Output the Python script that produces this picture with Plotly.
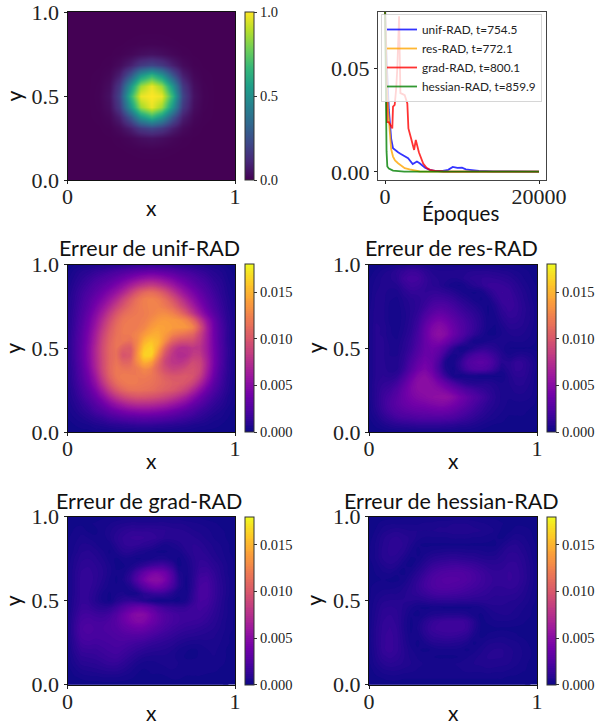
import numpy as np
import plotly.graph_objects as go

W, H = 603, 724
SERIF = "Liberation Serif"
SANS = "Lato"

# grid axes of the fields
solution_x = [i / 16 for i in range(17)]
solution_y = [i / 16 for i in range(17)]
error_x = [i / 24 for i in range(25)]
error_y = [i / 24 for i in range(25)]

# solution field, rows listed from y=1 (top) to y=0 (bottom)
solution_rows = [
 [0,0,0,0,0,0,0,0,0,0,0,0,0,0,0,0,0],
 [0,0,0,0,0,0,0,0,0,0,0,0,0,0,0,0,0],
 [0,0,0,0,0,0,0,.001,.001,.001,0,0,0,0,0,0,0],
 [0,0,0,0,0,.001,.003,.006,.008,.006,.003,.001,0,0,0,0,0],
 [0,0,0,0,.001,.005,.017,.036,.047,.036,.017,.005,.001,0,0,0,0],
 [0,0,0,.001,.005,.028,.085,.17,.21,.17,.085,.028,.005,.001,0,0,0],
 [0,0,.001,.003,.017,.085,.27,.52,.65,.52,.27,.085,.017,.003,.001,0,0],
 [0,0,.001,.006,.036,.17,.52,.85,.97,.85,.52,.17,.036,.006,.001,0,0],
 [0,0,.001,.008,.047,.21,.65,.97,1,.97,.65,.21,.047,.008,.001,0,0],
 [0,0,.001,.006,.036,.17,.52,.85,.97,.85,.52,.17,.036,.006,.001,0,0],
 [0,0,.001,.003,.017,.085,.27,.52,.65,.52,.27,.085,.017,.003,.001,0,0],
 [0,0,0,.001,.005,.028,.085,.17,.21,.17,.085,.028,.005,.001,0,0,0],
 [0,0,0,0,.001,.005,.017,.036,.047,.036,.017,.005,.001,0,0,0,0],
 [0,0,0,0,0,.001,.003,.006,.008,.006,.003,.001,0,0,0,0,0],
 [0,0,0,0,0,0,0,.001,.001,.001,0,0,0,0,0,0,0],
 [0,0,0,0,0,0,0,0,0,0,0,0,0,0,0,0,0],
 [0,0,0,0,0,0,0,0,0,0,0,0,0,0,0,0,0],
]

# error fields as read, rows from y=1 (top) to y=0 (bottom)
unif_rows = [
 [0,.2,.3,.4,.5,.6,.7,.8,.9,1,1.1,1.1,1.2,1.1,1.1,1,.9,.8,.7,.6,.5,.4,.3,.1,0],
 [.2,.5,.8,1,1.3,1.5,1.8,2.1,2.4,2.7,3,3.2,3.3,3.2,3,2.7,2.3,2,1.7,1.4,1.1,.8,.6,.3,.1],
 [.3,.7,1.1,1.5,1.9,2.3,2.7,3.2,3.8,4.4,5,5.5,5.7,5.5,5,4.4,3.7,3.1,2.5,2,1.6,1.1,.8,.4,.2],
 [.4,.9,1.4,1.9,2.5,3,3.6,4.4,5.3,6.4,7.4,8.1,8.4,8,7.2,6.2,5.1,4.2,3.3,2.6,2,1.4,1,.5,.2],
 [.5,1.1,1.7,2.3,3,3.8,4.7,5.7,7,8.5,10,11,11.3,10.8,9.7,8.2,6.7,5.4,4.3,3.3,2.4,1.7,1.1,.6,.3],
 [.6,1.2,1.9,2.7,3.6,4.6,5.8,7.2,8.8,10.3,11.5,12.3,12.5,12.2,11.3,10,8.4,6.8,5.3,4,2.9,2,1.3,.7,.3],
 [.6,1.3,2.1,3,4.2,5.5,7,8.6,10,11.1,11.9,12.3,12.5,12.5,12,11.2,9.8,8.2,6.5,4.8,3.4,2.3,1.5,.8,.4],
 [.7,1.4,2.3,3.4,4.8,6.4,8.2,9.9,11.1,11.7,12,12.2,12.5,12.9,13,12.5,11.5,10,8,6,4.2,2.8,1.7,.9,.4],
 [.7,1.5,2.5,3.8,5.4,7.3,9.2,10.8,11.8,12.1,12.1,12.3,13,13.6,13.8,13.7,13.4,12.7,11,8.3,5.6,3.5,2,1,.5],
 [.7,1.6,2.7,4.1,5.9,8,9.9,11.3,12,12.2,12.2,12.7,13.7,14.2,14,13.8,13.7,13.5,12.5,9.7,6.4,3.8,2.2,1.1,.5],
 [.8,1.7,2.9,4.4,6.4,8.6,10.4,11.5,12,12.1,12.6,13.7,14.5,14.6,13.8,12.7,12,11.5,10.8,8.8,6.3,3.9,2.3,1.1,.5],
 [.8,1.8,3,4.6,6.7,9,10.7,11.7,11.8,11.5,12.7,14.8,15.6,15,13,10.8,9.8,9.5,9.3,8.2,6.2,4,2.3,1.1,.5],
 [.8,1.8,3.1,4.8,7,9.2,10.9,11.6,10.5,10.3,13,15.8,16.5,14.3,11,8.8,7.6,7.5,8,7.8,6.2,4.1,2.4,1.2,.5],
 [.8,1.8,3.1,4.8,7,9.2,10.9,11.5,9.8,10.2,13.3,16.3,16.3,12.8,9.7,8,7.2,7.4,8.3,8.2,6.4,4.2,2.4,1.2,.5],
 [.8,1.7,3,4.7,6.9,9.1,10.9,11.7,10.8,11,13,14.7,14,11.3,9,8,7.8,8.3,9.2,8.9,6.7,4.2,2.4,1.1,.5],
 [.7,1.6,2.8,4.4,6.6,9,10.9,11.9,11.7,11.7,12.1,12.8,12.3,10.8,9.5,8.8,8.9,9.4,9.7,9,6.5,4,2.2,1.1,.5],
 [.7,1.5,2.6,4,6,8.5,10.6,11.8,12.2,12.1,12,12.1,11.9,11.2,10.4,10,10,10.1,9.8,8.4,5.9,3.6,2,1,.4],
 [.6,1.4,2.3,3.6,5.3,7.6,9.7,11.2,11.9,12.1,12,11.8,11.6,11.2,10.8,10.4,10.2,9.8,8.8,7,4.9,3,1.8,.9,.4],
 [.5,1.2,2,3,4.4,6.3,8.3,9.9,10.9,11.4,11.5,11.4,11.2,10.8,10.4,10,9.4,8.5,7,5.3,3.7,2.4,1.5,.8,.3],
 [.5,1,1.7,2.5,3.5,4.9,6.5,7.9,8.9,9.5,9.8,9.8,9.6,9.3,8.8,8.2,7.4,6.4,5.1,3.8,2.7,1.8,1.2,.6,.3],
 [.4,.8,1.3,1.9,2.7,3.6,4.7,5.7,6.5,7.1,7.4,7.4,7.3,7,6.6,6,5.3,4.5,3.5,2.7,1.9,1.3,.9,.5,.2],
 [.3,.6,1,1.4,2,2.5,3.2,3.8,4.3,4.7,4.9,5,4.9,4.7,4.4,3.9,3.4,2.8,2.3,1.7,1.3,.9,.6,.3,.1],
 [.2,.4,.6,.9,1.2,1.5,1.9,2.2,2.5,2.7,2.8,2.9,2.8,2.7,2.5,2.3,2,1.7,1.4,1.1,.8,.5,.4,.2,.1],
 [.1,.2,.3,.4,.6,.7,.9,1,1.1,1.2,1.3,1.3,1.3,1.2,1.1,1,.9,.8,.6,.5,.4,.3,.2,.1,0],
 [0,.1,.1,.1,.2,.2,.2,.3,.3,.3,.3,.3,.3,.3,.3,.3,.2,.2,.2,.1,.1,.1,.1,0,0],
]
res_rows = [
 [0,.1,.2,.3,.4,.5,.6,.6,.5,.4,.3,.3,.3,.3,.3,.3,.3,.3,.3,.2,.2,.2,.1,.1,0],
 [.1,.3,.6,.8,1.2,1.6,1.9,1.8,1.3,.9,.8,.8,.8,.9,.9,1,1,1,.9,.8,.7,.5,.4,.2,.1],
 [.2,.5,.8,.9,1.2,2,2.3,2.2,1.6,1.1,.9,.8,.7,.8,1.1,1.3,1.4,1.5,1.4,1.3,1.1,.8,.5,.3,.1],
 [.3,.6,.8,.8,.9,1.6,2,1.9,1.5,1.2,1,.6,.3,.2,.6,1,1.3,1.7,1.8,1.7,1.5,1.1,.7,.4,.2],
 [.3,.7,.8,.6,.6,1.1,1.5,1.5,1.4,1.5,1.5,1.3,1,.6,.3,.2,.3,1,1.6,1.9,1.8,1.3,.9,.5,.2],
 [.3,.8,.8,.5,.4,.8,1.1,1.3,1.6,2,2.1,2,1.7,1.2,.8,.4,.2,.4,1.2,1.8,1.9,1.5,1,.6,.2],
 [.4,.8,.8,.4,.3,.7,1,1.3,1.9,2.6,2.9,2.8,2.3,1.8,1.3,.9,.5,.2,.7,1.5,1.8,1.6,1.1,.7,.3],
 [.4,.9,.8,.4,.3,.6,1,1.5,2.5,3.4,3.9,3.6,3,2.3,1.8,1.3,.8,.2,.5,1.2,1.6,1.5,1.1,.7,.3],
 [.4,.9,.8,.4,.3,.6,1.1,1.8,3.2,4.4,5,4.6,3.7,2.9,2.2,1.6,1,.3,.3,.9,1.3,1.3,1,.7,.3],
 [.4,1,.9,.5,.3,.7,1.2,2.1,3.8,5.2,5.8,5.3,4.2,3.2,2.4,1.7,1,.3,.2,.6,1,1,.9,.6,.3],
 [.4,1,.9,.5,.4,.8,1.4,2.4,4,5.5,6.2,5.6,4.3,3.2,2.2,1.4,.7,.2,.2,.5,.7,.8,.7,.5,.2],
 [.4,1,1,.6,.5,1,1.6,2.6,4,5,5.3,4.5,3.2,2.2,1.2,.3,.3,.5,.6,.5,.5,.5,.5,.4,.2],
 [.4,1,1,.7,.6,1.1,1.8,2.9,4,4.4,4,2.8,1.3,.3,.3,.9,1.3,1.3,1,.6,.2,.2,.2,.2,.2],
 [.4,1,1,.7,.7,1.3,2.2,3.3,4.2,4.2,3.3,1.5,.3,.6,1.7,2.4,2.7,2.4,1.7,.9,.5,.7,.8,.6,.3],
 [.4,1,1,.8,.8,1.5,2.7,3.9,4.6,4.2,2.6,.5,.3,1.3,2.6,3.2,3.5,3.1,2.1,1,1,1.5,1.4,.9,.4],
 [.4,1,1.1,.8,.9,1.8,3.2,4.5,5.1,4.4,2.5,.7,.2,1.1,2.2,2.8,2.9,2.5,1.6,.6,1,1.5,1.4,.9,.4],
 [.4,1,1.2,1.1,1.4,2.6,4.2,5.5,5.9,5.1,3.5,1.7,.5,.2,.3,.3,.2,.2,.2,.2,.8,1.2,1.2,.8,.3],
 [.4,1.1,1.4,1.6,2.2,3.5,5,6,6.1,5.8,4.9,3.8,2.6,1.7,1.1,.9,.9,.9,.7,.5,.7,1,1,.7,.3],
 [.4,1.1,1.7,2.1,2.9,4.1,5.2,5.9,6.1,6,5.8,5.2,4.4,3.5,2.7,2.2,1.7,1.3,.9,.6,.6,.8,.8,.6,.3],
 [.4,1.1,1.9,2.5,3.3,4.2,5,5.5,5.8,6.1,6.3,6.4,5.7,4.7,3.8,3,2.3,1.6,1,.6,.5,.6,.6,.5,.2],
 [.3,1.1,1.9,2.7,3.4,4,4.5,4.8,5,5.3,5.5,5.4,4.9,4.2,3.4,2.6,1.9,1.3,.9,.6,.4,.4,.4,.3,.2],
 [.3,.9,1.7,2.4,3,3.4,3.7,3.9,4,4.2,4.3,4.2,3.8,3.2,2.6,2,1.5,1,.7,.5,.3,.3,.3,.2,.1],
 [.2,.6,1.2,1.7,2.2,2.5,2.6,2.8,2.9,2.9,2.9,2.8,2.6,2.2,1.8,1.4,1,.7,.5,.3,.2,.2,.2,.1,.1],
 [.1,.3,.6,.9,1.1,1.2,1.3,1.4,1.4,1.4,1.4,1.3,1.2,1,.9,.7,.5,.3,.2,.2,.1,.1,.1,.1,0],
 [0,.1,.1,.2,.2,.3,.3,.3,.3,.3,.3,.3,.3,.2,.2,.2,.1,.1,.1,0,0,0,0,0,0],
]
grad_rows = [
 [0,.1,.1,.1,.1,.2,.2,.2,.3,.3,.3,.3,.3,.3,.3,.3,.3,.2,.2,.2,.1,.1,.1,0,0],
 [.1,.2,.2,.2,.3,.4,.5,.7,.8,.9,.9,.9,.9,.9,.9,.8,.8,.7,.6,.5,.4,.3,.2,.1,.1],
 [.1,.3,.4,.2,.2,.4,.7,1,1.3,1.5,1.5,1.5,1.5,1.4,1.3,1.2,1.1,1,.8,.7,.6,.4,.3,.2,.1],
 [.2,.4,.6,.5,.3,.3,.7,1.2,1.6,1.8,1.9,1.8,1.7,1.5,1.2,1.2,1.2,1.2,1.1,.9,.7,.5,.4,.2,.1],
 [.2,.5,.8,.8,.6,.3,.4,1,1.5,1.7,1.6,1.4,1.2,.8,.5,.6,.9,1.2,1.3,1.2,.9,.7,.5,.3,.1],
 [.2,.6,1,1.1,.9,.6,.2,.6,1.1,1.1,.8,.6,.4,.2,.2,.4,.5,1,1.3,1.4,1.1,.8,.6,.3,.1],
 [.3,.8,1.2,1.3,1.1,.8,.4,.2,.4,.4,.2,.3,.5,.7,.7,.4,.2,.6,1.2,1.5,1.4,1,.7,.4,.2],
 [.3,.9,1.4,1.5,1.3,1,.6,.2,.2,.5,1,1.6,2.2,2.5,2.4,1.6,.2,.4,1.1,1.7,1.7,1.3,.9,.5,.2],
 [.3,1,1.6,1.7,1.4,1.1,.6,.3,.4,1.2,2.6,4.2,5.3,5.5,4.8,2.9,.7,.3,1.1,2,2.1,1.6,1,.5,.2],
 [.3,1,1.7,1.8,1.4,1,.5,.2,.6,1.5,3.3,5.2,6.4,6.5,5.4,3.3,1,.2,1.2,2.4,2.5,1.8,1.1,.6,.2],
 [.3,1,1.7,1.7,1.3,.8,.4,.3,.3,.8,2,3.5,4.7,5,4.1,2.6,.9,.2,1.3,2.6,2.7,1.9,1.2,.6,.2],
 [.3,1,1.7,1.6,1.1,.5,.2,.5,.6,.3,.5,1.3,1.7,1.9,1.7,1,.3,.3,1.5,2.7,2.7,1.9,1.2,.6,.2],
 [.3,1.1,1.7,1.6,1,.5,.2,.9,1.4,1.6,1.3,.9,.5,.2,.2,.2,.2,.6,1.7,2.6,2.5,1.8,1.1,.5,.2],
 [.3,1.2,1.9,1.9,1.5,1.3,1.5,2.2,3.2,4.1,4.7,4.6,3.8,2.8,2.2,1.9,1.7,1.8,2.2,2.4,2.2,1.6,1,.5,.2],
 [.4,1.4,2.3,2.4,2.2,2.1,2.4,3.2,4.5,5.6,6.3,6.2,5.1,3.9,3.1,2.6,2.3,2.3,2.3,2.2,1.9,1.4,.9,.5,.2],
 [.4,1.6,2.6,2.8,2.6,2.6,2.9,3.5,4.5,5.4,5.9,5.7,4.8,3.9,3.1,2.6,2.3,2.1,2,1.9,1.6,1.2,.8,.4,.2],
 [.4,1.7,2.8,2.9,2.8,2.8,3,3.3,3.9,4.3,4.6,4.4,3.8,3.2,2.6,2.2,1.9,1.7,1.6,1.4,1.2,1,.7,.4,.2],
 [.4,1.6,2.7,2.8,2.7,2.7,2.8,3,3.2,3.3,3.3,3.1,2.7,2.3,2,1.7,1.4,1.2,1.1,1,.9,.8,.6,.3,.1],
 [.4,1.4,2.3,2.5,2.4,2.5,2.6,2.7,2.7,2.5,2.3,2.1,1.8,1.6,1.4,1.2,.9,.7,.6,.6,.7,.7,.5,.3,.1],
 [.3,1.2,1.9,2,2,2.2,2.4,2.5,2.3,2,1.7,1.4,1.2,1.1,1,.8,.5,.3,.2,.3,.5,.6,.4,.2,.1],
 [.3,.9,1.5,1.6,1.7,1.9,2.1,2.2,1.9,1.5,1.1,.8,.7,.7,.7,.6,.4,.2,.2,.3,.5,.5,.4,.2,.1],
 [.2,.7,1.1,1.2,1.3,1.5,1.7,1.7,1.4,1,.6,.4,.4,.5,.6,.6,.5,.4,.4,.4,.4,.4,.3,.2,.1],
 [.1,.4,.7,.8,.9,1,1.1,1.1,.9,.6,.3,.2,.3,.3,.4,.5,.5,.4,.4,.4,.3,.3,.2,.1,.1],
 [.1,.2,.3,.4,.4,.5,.5,.5,.4,.3,.2,.1,.2,.2,.2,.3,.3,.2,.2,.2,.2,.1,.1,.1,0],
 [0,0,.1,.1,.1,.1,.1,.1,.1,.1,.1,0,0,.1,.1,.1,.1,.1,.1,.1,0,0,0,0,0],
]
hessian_rows = [
 [0,.1,.1,.1,.1,.2,.2,.2,.2,.3,.3,.3,.3,.3,.3,.3,.2,.2,.2,.1,.1,.1,.1,.1,0],
 [.1,.2,.4,.5,.5,.5,.5,.5,.6,.6,.7,.7,.8,.8,.8,.7,.6,.5,.4,.3,.1,.2,.2,.1,.1],
 [.1,.3,.7,.9,1,.9,.8,.8,.8,.8,.9,.9,1,1,1,.9,.8,.7,.5,.2,.2,.4,.4,.3,.1],
 [.1,.5,1,1.3,1.4,1.2,1,.7,.5,.5,.5,.5,.6,.6,.6,.5,.5,.4,.3,.2,.5,.7,.6,.4,.1],
 [.2,.6,1.1,1.4,1.5,1.3,.8,.3,.2,.2,.2,.2,.2,.2,.2,.2,.2,.2,.2,.6,1,1.1,.8,.5,.2],
 [.2,.6,1.2,1.4,1.4,1.1,.5,.2,.4,.6,.7,.8,.8,.8,.7,.7,.6,.5,.6,1,1.3,1.3,1,.6,.2],
 [.2,.6,1.1,1.3,1.2,.7,.2,.3,.8,1.2,1.4,1.5,1.6,1.5,1.4,1.3,1.1,1,1,1.2,1.5,1.5,1.2,.7,.2],
 [.1,.4,.8,1,.8,.3,.2,.7,1.3,1.9,2.2,2.4,2.5,2.5,2.3,2.1,1.8,1.5,1.4,1.5,1.7,1.7,1.3,.8,.3],
 [.1,.3,.5,.6,.3,.2,.6,1.2,1.9,2.6,3,3.2,3.3,3.3,3.1,2.7,2.3,1.9,1.7,1.7,1.9,1.8,1.4,.8,.3],
 [.2,.2,.3,.2,.2,.4,1,1.6,2.4,3,3.4,3.6,3.6,3.5,3.2,2.8,2.4,2,1.8,1.7,1.9,1.8,1.4,.8,.3],
 [.2,.4,.4,.4,.5,.8,1.2,1.8,2.5,3,3.3,3.4,3.3,3.1,2.8,2.5,2.2,1.9,1.6,1.6,1.7,1.6,1.2,.7,.3],
 [.2,.5,.7,.8,.8,1,1.3,1.6,2,2.4,2.6,2.6,2.5,2.4,2.2,2,1.8,1.6,1.4,1.4,1.4,1.3,1,.6,.2],
 [.2,.7,1,1.1,1.1,1.1,1.1,1,1.2,1.4,1.5,1.5,1.5,1.4,1.4,1.3,1.3,1.3,1.2,1.2,1.1,1,.8,.5,.2],
 [.3,.8,1.3,1.4,1.3,1,.6,.3,.2,.3,.3,.2,.2,.2,.2,.3,.5,.8,1,1,.9,.8,.6,.3,.2],
 [.3,.9,1.5,1.6,1.4,.9,.3,.2,.5,.8,.9,1,1,1,.8,.4,.2,.5,.7,.8,.8,.7,.4,.3,.1],
 [.3,1,1.6,1.8,1.5,.8,.2,.5,1.2,1.8,2.1,2.3,2.3,2.3,2,1.1,.2,.3,.5,.5,.5,.4,.3,.2,.1],
 [.3,1.1,1.7,1.9,1.6,.8,.2,.6,1.4,2,2.3,2.4,2.4,2.4,2,1,.2,.2,.2,.2,.2,.2,.2,.1,.1],
 [.3,1.1,1.8,2,1.7,.9,.3,.4,1.1,1.6,1.8,1.9,1.9,1.7,1.4,.6,.2,.3,.4,.5,.4,.3,.2,.1,.1],
 [.3,1.1,1.8,2,1.7,1,.4,.2,.6,1,1.1,1.2,1.1,1,.7,.2,.4,.7,.8,.8,.7,.6,.4,.2,.1],
 [.3,1,1.8,2,1.7,1.1,.6,.3,.2,.3,.5,.5,.5,.4,.2,.4,.7,1,1.1,1.1,.9,.7,.5,.3,.1],
 [.2,.9,1.5,1.7,1.5,1.1,.7,.5,.4,.3,.2,.2,.2,.3,.5,.7,.9,1.1,1.1,1.1,.9,.7,.5,.3,.1],
 [.2,.7,1.1,1.3,1.2,1,.8,.6,.5,.5,.5,.5,.5,.6,.7,.8,.9,1,1,.9,.8,.6,.4,.2,.1],
 [.1,.4,.7,.8,.8,.7,.6,.5,.5,.5,.5,.5,.5,.5,.6,.6,.6,.7,.6,.6,.5,.4,.3,.2,.1],
 [.1,.2,.3,.4,.4,.3,.3,.3,.3,.3,.3,.3,.3,.3,.3,.3,.3,.3,.3,.3,.2,.2,.1,.1,0],
 [0,0,.1,.1,.1,.1,.1,.1,.1,.1,.1,.1,.1,.1,.1,.1,.1,.1,.1,.1,.1,0,0,0,0],
]
# unit of each error table, calibrated on the colours read at the peaks
error_units = [0.001, 0.00085, 0.00078, 0.00075]

# training curves
unif_epochs = [0,200,500,800,1040,1300,1700,2000,2500,3000,3600,4150,4500,5200,5800,6500,7500,8200,8800,9400,10000,10500,11000,12200,14000,16000,18000,20000]
unif_loss = [.08,.055,.03,.016,.0114,.0105,.0095,.0088,.0078,.0066,.0038,.005,.0042,.002,.001,.0005,.0005,.001,.0024,.0019,.002,.0012,.001,.0005,.0003,.0003,.0002,.0001]
res_epochs = [0,150,260,400,600,800,1040,1300,1700,2100,2560,3200,3870,4500,6000,20000]
res_loss = [.08,.055,.04,.03,.0187,.011,.0074,.0055,.0042,.003,.0018,.0012,.0006,.0002,.0001,.0001]
grad_epochs = [0,120,260,500,950,1040,1260,1450,1600,1830,2000,2300,2560,2900,3040,3400,3780,4000,4400,4960,5400,5830,6500,7560,20000]
grad_loss = [.08,.05,.024,.024,.021,.0315,.0323,.04,.05,.075,.038,.0375,.037,.033,.021,.016,.0106,.0154,.0095,.004,.002,.001,.0005,.0002,.0001]
hessian_epochs = [0,60,130,200,300,500,1040,1800,2500,20000]
hessian_loss = [.08,.05,.025,.01,.0026,.0016,.0006,.0002,.0001,.0001]

curve_names = ["unif-RAD, t=754.5", "res-RAD, t=772.1", "grad-RAD, t=800.1", "hessian-RAD, t=859.9"]
curve_colors = ["rgba(0,0,255,0.8)", "rgba(255,165,0,0.8)", "rgba(255,0,0,0.8)", "rgba(0,128,0,0.8)"]
error_titles = ["Erreur de unif-RAD", "Erreur de res-RAD", "Erreur de grad-RAD", "Erreur de hessian-RAD"]
error_ticks = [0, 0.005, 0.01, 0.015]
error_ticktext = ["0.000", "0.005", "0.010", "0.015"]
unit_ticks = [0, 0.5, 1]
unit_ticktext = ["0.0", "0.5", "1.0"]
xlabel_ticks = [0, 1]
xlabel_ticktext = ["0", "1"]
loss_ticks = [0, 0.05]
loss_ticktext = ["0.00", "0.05"]
epoch_ticks = [0, 20000]
epoch_ticktext = ["0", "20000"]

fig = go.Figure()

def fx(p): return p / W
def fy(p): return 1 - p / H

# axes boxes in pixels: left, right, top, bottom
boxes = [
    (67.5, 235, 12, 180),
    (378, 546, 12, 180),
    (67.5, 235, 264.5, 432),
    (369, 537, 264.5, 432),
    (67.5, 235, 516.7, 684.7),
    (369, 537, 516.7, 684.7),
]

annotations = []

def style_axes(i, xr, yr, xt, xtt, yt, ytt, xtitle, ytitle, color="#111"):
    l, r, t, b = boxes[i]
    n = "" if i == 0 else str(i + 1)
    fig.layout["xaxis" + n] = dict(
        domain=[fx(l), fx(r)], range=xr, anchor="y" + n, tickmode="array", tickvals=xt, ticktext=xtt,
        ticks="outside", ticklen=3, tickwidth=1, tickcolor="#222", showline=True, linecolor=color, linewidth=1, mirror=True,
        showgrid=False, zeroline=False, ticklabelstandoff=-6, ticklabeloverflow="allow",
        tickfont=dict(family=SERIF, size=22, color="#222"))
    fig.layout["yaxis" + n] = dict(
        domain=[fy(b), fy(t)], range=yr, anchor="x" + n, tickmode="array", tickvals=yt, ticktext=ytt,
        ticks="outside", ticklen=3, tickwidth=1, tickcolor="#222", showline=True, linecolor=color, linewidth=1, mirror=True,
        showgrid=False, zeroline=False, ticklabeloverflow="allow",
        tickfont=dict(family=SERIF, size=22, color="#222"))
    if xtitle:
        annotations.append(dict(text=xtitle, x=fx((l + r) / 2), y=fy(b + 28), xref="paper", yref="paper",
                                showarrow=False, xanchor="center", yanchor="middle",
                                font=dict(family=SANS, size=21, color="#111")))
    if ytitle:
        annotations.append(dict(text=ytitle, x=fx(l - 55), y=fy((t + b) / 2), xref="paper", yref="paper", textangle=-90,
                                showarrow=False, xanchor="center", yanchor="middle",
                                font=dict(family=SANS, size=21, color="#111")))

def colorbar_for(i, cticks, ctext):
    l, r, t, b = boxes[i]
    return dict(x=fx(r + 9.5), xanchor="left", xpad=0, ypad=0, thickness=8.5, thicknessmode="pixels",
                len=(b - t) / H, lenmode="fraction", y=fy(b), yanchor="bottom",
                tickmode="array", tickvals=cticks, ticktext=ctext, ticks="outside", ticklen=3, tickwidth=1,
                tickcolor="#333", outlinewidth=1, outlinecolor="#333",
                tickfont=dict(family=SERIF, size=14.5, color="#222"))

def add_error(i, rows, unit, cticks, ctext, title):
    l, r, t, b = boxes[i]
    n = str(i + 1)
    zmax = 0.018
    fig.add_trace(go.Contour(
        x=error_x, y=error_y, z=np.flipud(np.array(rows, dtype=float)) * unit, zmin=0, zmax=zmax, autocontour=False,
        contours=dict(start=0, end=zmax, size=zmax / 90, coloring="fill", showlines=False),
        line=dict(width=0, smoothing=1.3),
        colorscale="Plasma", xaxis="x" + n, yaxis="y" + n, showscale=True,
        colorbar=colorbar_for(i, cticks, ctext)))
    style_axes(i, [0, 1], [0, 1], xlabel_ticks, xlabel_ticktext, unit_ticks, unit_ticktext, "x", "y")
    annotations.append(dict(text=title, x=fx((l + r) / 2 - 2), y=fy(t - 16), xref="paper", yref="paper",
                            showarrow=False, xanchor="center", yanchor="middle",
                            font=dict(family=SANS, size=21.5, color="#111")))

fig.add_trace(go.Heatmap(
    x=solution_x, y=solution_y, z=np.flipud(np.array(solution_rows, dtype=float)), zmin=0, zmax=1.0,
    colorscale="Viridis", zsmooth="best", xaxis="x", yaxis="y", showscale=True,
    colorbar=colorbar_for(0, [0, 0.5, 1], ["0.0", "0.5", "1.0"])))
style_axes(0, [0, 1], [0, 1], xlabel_ticks, xlabel_ticktext, unit_ticks, unit_ticktext, "x", "y")

for name, color, ex, ly in zip(curve_names, curve_colors,
                               [unif_epochs, res_epochs, grad_epochs, hessian_epochs],
                               [unif_loss, res_loss, grad_loss, hessian_loss]):
    fig.add_trace(go.Scatter(x=ex, y=ly, mode="lines", name=name, xaxis="x2", yaxis="y2",
                             line=dict(color=color, width=1.8)))
style_axes(1, [-909, 20909], [-0.0039, 0.0771], epoch_ticks, epoch_ticktext, loss_ticks, loss_ticktext, None, None, color="#444")
annotations.append(dict(text="Époques", x=fx(460), y=fy(213), xref="paper", yref="paper", showarrow=False,
                        xanchor="center", yanchor="middle", font=dict(family=SANS, size=20.5, color="#111")))

for idx, (rows, unit, title) in enumerate(zip([unif_rows, res_rows, grad_rows, hessian_rows], error_units, error_titles)):
    add_error(idx + 2, rows, unit, error_ticks, error_ticktext, title)

fig.update_layout(
    width=W, height=H, margin=dict(l=0, r=0, t=0, b=0, autoexpand=False), autosize=False,
    paper_bgcolor="white", plot_bgcolor="white", annotations=annotations,
    showlegend=True,
    legend=dict(x=fx(381), y=fy(14), xanchor="left", yanchor="top", xref="paper", yref="paper",
                bgcolor="rgba(255,255,255,0.8)", bordercolor="rgba(204,204,204,0.8)", borderwidth=1,
                font=dict(family=SANS, size=11.8, color="#222"), itemwidth=30, tracegroupgap=0),
)

fig.write_html("out.html", post_script="document.body.style.margin='0';", config={"displayModeBar": False})
